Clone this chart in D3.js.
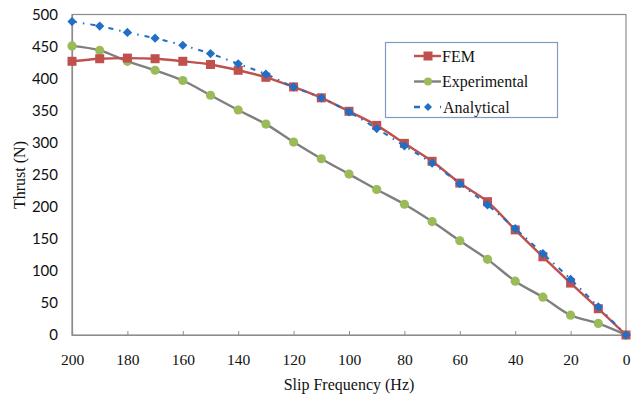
<!DOCTYPE html>
<html>
<head>
<meta charset="utf-8">
<script src="https://cdn.jsdelivr.net/npm/d3@7"></script>
<style>
  body { margin: 0; background: #fff; }
  svg { display: block; }
  text.serif { font-family: "Liberation Serif", Tinos, "Times New Roman", Times, serif; }
  text.sans { font-family: Lato, "Open Sans", sans-serif; }
</style>
</head>
<body>
<div id="chart"></div>
<script>
// slip frequency (Hz)
const freq = [200, 190, 180, 170, 160, 150, 140, 130, 120, 110, 100, 90, 80, 70, 60, 50, 40, 30, 20, 10, 0];
// thrust (N)
const fem = [427, 431, 432, 431, 427, 422, 413, 402, 387, 370, 349, 327, 299, 271, 237, 208, 164, 122, 81, 41, 0];
const experimental = [451, 444, 427, 413, 397, 374, 351, 329, 301, 275, 251, 227, 204, 177, 147, 118, 84, 59, 31, 18, 0];
const analytical = [489, 482, 472, 463, 452, 439, 423, 407, 387, 370, 348, 322, 295, 268, 236, 203, 166, 127, 87, 44, 0];
const xTicks = [200, 180, 160, 140, 120, 100, 80, 60, 40, 20, 0];
const yTicks = [0, 50, 100, 150, 200, 250, 300, 350, 400, 450, 500];

const W = 639, H = 398;
const L = 72, R = 626, T = 14.5, B = 335;

const svg = d3.select('#chart').append('svg').attr('width', W).attr('height', H);

const x = d3.scaleLinear().domain([200, 0]).range([L, R]);
const y = d3.scaleLinear().domain([0, 500]).range([B, T]);

// plot area border
svg.append('rect')
    .attr('x', L).attr('y', T).attr('width', R - L).attr('height', B - T)
    .attr('fill', 'none').attr('stroke', '#8c8c8c').attr('stroke-width', 1.2);

// x axis
const xAxis = svg.append('g')
    .attr('transform', `translate(0,${B})`)
    .call(d3.axisBottom(x).tickValues(xTicks).tickSize(-4).tickPadding(19));
xAxis.attr('font-family', null).attr('font-size', null);
xAxis.select('.domain').attr('stroke', '#8c8c8c').attr('stroke-width', 1.2);
xAxis.selectAll('.tick line').attr('stroke', '#8c8c8c');
xAxis.selectAll('text')
    .attr('class', 'serif')
    .style('font-size', '15.5px').attr('fill', '#111');

// y axis
const yAxis = svg.append('g')
    .attr('transform', `translate(${L},0)`)
    .call(d3.axisLeft(y).tickValues(yTicks).tickSize(0).tickPadding(14));
yAxis.attr('font-family', null).attr('font-size', null);
yAxis.select('.domain').attr('stroke', '#8c8c8c').attr('stroke-width', 1.2);
yAxis.selectAll('text')
    .attr('class', 'sans')
    .style('font-size', '15px').attr('fill', '#111');

// axis titles
svg.append('text')
    .attr('class', 'serif')
    .attr('x', 349).attr('y', 390)
    .attr('text-anchor', 'middle')
    .style('font-size', '16px')
    .attr('fill', '#111')
    .text('Slip Frequency (Hz)');

svg.append('text')
    .attr('class', 'serif')
    .attr('transform', 'translate(25,175) rotate(-90)')
    .attr('text-anchor', 'middle')
    .style('font-size', '16px')
    .attr('fill', '#111')
    .text('Thrust (N)');

const line = d3.line()
    .x((d, i) => x(freq[i]))
    .y(d => y(d))
    .curve(d3.curveCatmullRom.alpha(0.5));

// experimental
svg.append('path').datum(experimental)
    .attr('d', line).attr('fill', 'none')
    .attr('stroke', '#7f7f7f').attr('stroke-width', 2.4);
svg.append('g').selectAll('circle').data(experimental).join('circle')
    .attr('cx', (d, i) => x(freq[i])).attr('cy', d => y(d))
    .attr('r', 4.6).attr('fill', '#9bbb59');

// FEM
svg.append('path').datum(fem)
    .attr('d', line).attr('fill', 'none')
    .attr('stroke', '#c0504d').attr('stroke-width', 2.4);
svg.append('g').selectAll('rect').data(fem).join('rect')
    .attr('x', (d, i) => x(freq[i]) - 4.5).attr('y', d => y(d) - 4.5)
    .attr('width', 9).attr('height', 9).attr('fill', '#c0504d');

// analytical
svg.append('path').datum(analytical)
    .attr('d', line).attr('fill', 'none')
    .attr('stroke', '#1f6fc5').attr('stroke-width', 2)
    .attr('stroke-dasharray', '5,6,1.5,6');
const diamond = 'M0,-4.6L4.6,0L0,4.6L-4.6,0Z';
svg.append('g').selectAll('path').data(analytical).join('path')
    .attr('d', diamond)
    .attr('transform', (d, i) => `translate(${x(freq[i])},${y(d)})`)
    .attr('fill', '#1f6fc5');

// legend
const leg = svg.append('g');
leg.append('rect')
    .attr('x', 385.5).attr('y', 42.5).attr('width', 172).attr('height', 75)
    .attr('fill', '#fff').attr('stroke', '#7d9cc0').attr('stroke-width', 1.2);

const items = [
  { name: 'FEM', line: '#c0504d', mark: 'square', color: '#c0504d', dash: null },
  { name: 'Experimental', line: '#7f7f7f', mark: 'circle', color: '#9bbb59', dash: null },
  { name: 'Analytical', line: '#1f6fc5', mark: 'diamond', color: '#1f6fc5', dash: '6,20' }
];
items.forEach((it, i) => {
  const cy = 56 + i * 25.5;
  leg.append('line')
      .attr('x1', 414).attr('x2', 441).attr('y1', cy).attr('y2', cy)
      .attr('stroke', it.line).attr('stroke-width', 2.4)
      .attr('stroke-dasharray', it.dash);
  const mx = 428;
  if (it.mark === 'square') {
    leg.append('rect').attr('x', mx - 4.5).attr('y', cy - 4.5)
        .attr('width', 9).attr('height', 9).attr('fill', it.color);
  } else if (it.mark === 'circle') {
    leg.append('circle').attr('cx', mx).attr('cy', cy).attr('r', 4).attr('fill', it.color);
  } else {
    leg.append('path').attr('d', 'M0,-4L4,0L0,4L-4,0Z')
        .attr('transform', `translate(${mx},${cy})`).attr('fill', it.color);
  }
  leg.append('text')
      .attr('class', 'serif')
      .attr('x', i === 2 ? 443 : 442).attr('y', cy + 5.5)
      .style('font-size', '16px')
      .attr('fill', '#111')
      .text(it.name);
});
</script>
</body>
</html>
